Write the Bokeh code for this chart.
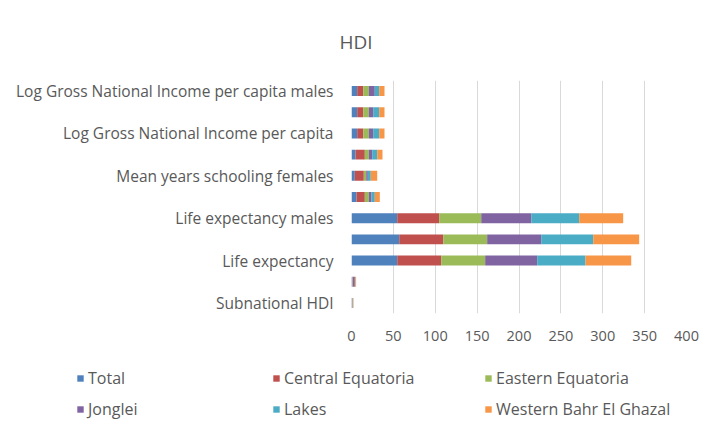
from bokeh.plotting import figure
from bokeh.layouts import column
from bokeh.models import (ColumnDataSource, Range1d, Legend, LegendItem, FixedTicker, Title)
from bokeh.embed import file_html
from bokeh.resources import INLINE

# ---- data (bottom -> top) ----
categories = [
    "Subnational HDI",
    "Health index",
    "Life expectancy",
    "Life expectancy females",
    "Life expectancy males",
    "Mean years schooling",
    "Mean years schooling females",
    "Mean years schooling males",
    "Log Gross National Income per capita",
    "Log Gross National Income per capita females",
    "Log Gross National Income per capita males",
]
shown_labels = ["Subnational HDI", "Life expectancy", "Life expectancy males",
                "Mean years schooling females", "Log Gross National Income per capita",
                "Log Gross National Income per capita males"]

series = ["Total", "Central Equatoria", "Eastern Equatoria", "Jonglei", "Lakes",
          "Western Bahr El Ghazal"]

total = [0.43, 0.5, 54.6, 57.0, 54.6, 6.0, 3.9, 4.8, 6.8, 6.8, 6.8]
central_equatoria = [0.45, 0.5, 52.5, 52.5, 50.1, 9.9, 10.8, 11.1, 7.2, 7.2, 7.2]
eastern_equatoria = [0.38, 0.5, 52.5, 52.5, 50.2, 4.8, 2.9, 4.8, 6.7, 6.7, 6.7]
jonglei = [0.36, 2.5, 62.1, 64.5, 59.7, 3.2, 1.9, 4.0, 5.2, 5.2, 7.1]
lakes = [0.38, 0.5, 57.7, 62.1, 57.3, 3.9, 3.5, 6.0, 7.2, 7.2, 5.3]
western_bahr_el_ghazal = [0.40, 1.0, 54.6, 54.9, 52.5, 6.0, 7.7, 6.3, 6.3, 6.3, 6.3]

x_ticks = [0, 50, 100, 150, 200, 250, 300, 350, 400]

colors = ["#4F81BD", "#C0504D", "#9BBB59", "#8064A2", "#4BACC6", "#F79646"]
FONT = "Open Sans"
TXT = "#595959"

pos = list(range(len(categories)))
source = ColumnDataSource(dict(
    pos=pos,
    **{"Total": total,
       "Central Equatoria": central_equatoria,
       "Eastern Equatoria": eastern_equatoria,
       "Jonglei": jonglei,
       "Lakes": lakes,
       "Western Bahr El Ghazal": western_bahr_el_ghazal}))

p = figure(width=712, height=356, output_backend="svg", toolbar_location=None,
           y_range=Range1d(pos[0] - 0.5, pos[-1] + 0.5),
           x_range=Range1d(x_ticks[0], x_ticks[-1]),
           min_border_left=351, min_border_right=26, min_border_top=80,
           min_border_bottom=43)
p.frame_align = False
p.outline_line_color = None
p.background_fill_color = "white"
p.border_fill_color = "white"

renderers = p.hbar_stack(series, y="pos", height=0.47, color=colors, source=source,
                         line_color=None)

# axes
p.xaxis.ticker = FixedTicker(ticks=x_ticks)
p.xaxis.axis_line_color = None
p.xaxis.major_tick_line_color = None
p.xaxis.minor_tick_line_color = None
p.xaxis.major_tick_out = 0
p.xaxis.major_label_standoff = 17
p.xaxis.major_label_text_font = FONT
p.xaxis.major_label_text_font_size = "14.5px"
p.xaxis.major_label_text_color = TXT

shown_pos = [categories.index(c) for c in shown_labels]
p.yaxis.ticker = FixedTicker(ticks=shown_pos)
p.yaxis.major_label_overrides = {i: categories[i] for i in shown_pos}
p.yaxis.axis_line_color = None
p.yaxis.major_tick_line_color = None
p.yaxis.minor_tick_line_color = None
p.yaxis.major_tick_out = 0
p.yaxis.major_label_standoff = 18
p.yaxis.major_label_text_font = FONT
p.yaxis.major_label_text_font_size = "15.5px"
p.yaxis.major_label_text_color = TXT

p.xgrid.grid_line_color = "#D9D9D9"
p.ygrid.grid_line_color = None

# title
p.add_layout(Title(text="HDI", align="left", offset=-12, standoff=52,
                   text_font=FONT, text_font_size="19px", text_font_style="normal",
                   text_color=TXT), "above")

# legend figure (its own ranges lie away from the bars, so only the legend shows)
lf = figure(width=712, height=80, output_backend="svg", toolbar_location=None,
            x_range=Range1d(-1000, -999), y_range=Range1d(-1000, -999),
            x_axis_type=None, y_axis_type=None,
            min_border_left=0, min_border_right=0, min_border_top=0, min_border_bottom=0)
lf.frame_align = False
lf.outline_line_color = None
lf.xgrid.visible = False
lf.ygrid.visible = False
lf.border_fill_color = "white"
lf.background_fill_color = "white"

legend_renderers = lf.hbar_stack(series, y="pos", height=0.47, color=colors,
                                 source=source, line_color=None)

col_x = [76, 272, 484]
row_y = [47, 16]
for i, (name, r) in enumerate(zip(series, legend_renderers)):
    lg = Legend(items=[LegendItem(label=name, renderers=[r])],
                location=(col_x[i % 3], row_y[i // 3]),
                glyph_width=8, glyph_height=8, label_standoff=4, label_height=16,
                padding=0, margin=0, border_line_color=None,
                background_fill_alpha=0, label_text_font=FONT,
                label_text_font_size="16px", label_text_color=TXT)
    lf.add_layout(lg, "center")

layout = column(p, lf, spacing=0)
open("out.html", "w").write(file_html(layout, INLINE))
